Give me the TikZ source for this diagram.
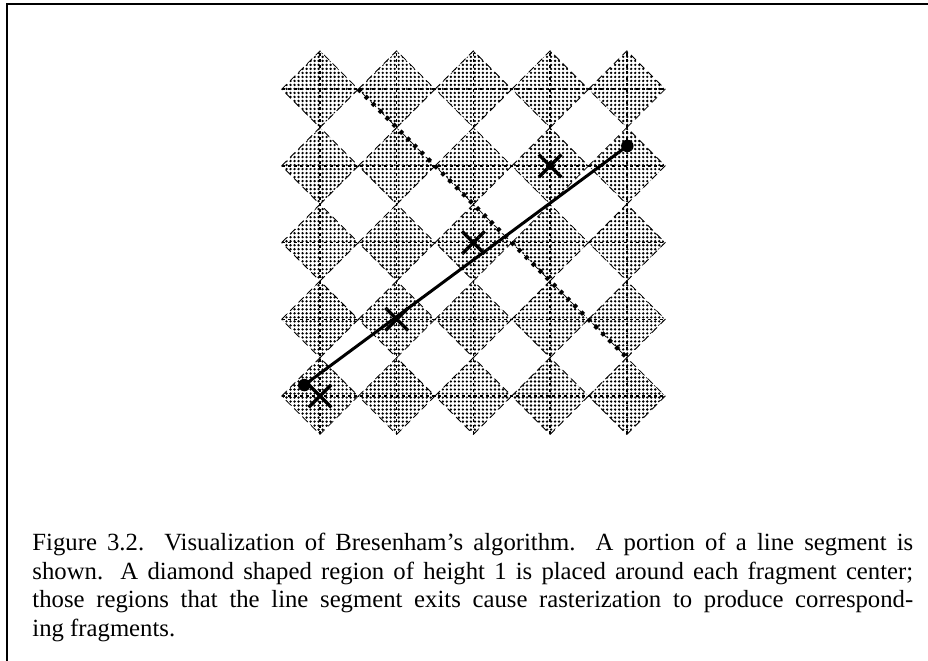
\documentclass[tikz,border=0pt]{standalone}
\usepackage{fontspec}
\setmainfont{Liberation Serif}
\usepackage{tikz}
\usetikzlibrary{patterns, shapes.misc}

% fine stipple for the diamond regions
\pgfdeclarepatternformonly{stipple}{\pgfpoint{-0.1pt}{-0.1pt}}{\pgfpoint{1.77pt}{1.77pt}}{\pgfpoint{1.67pt}{1.67pt}}{%
  \pgfpathcircle{\pgfpoint{0.83pt}{0.83pt}}{0.55pt}\pgfusepath{fill}}

\tikzset{
  region/.style={pattern=stipple, draw, densely dashed, line width=0.35pt},
  centerline/.style={line width=0.6pt, dash pattern=on 1.5pt off 1pt},
  exitline/.style={line width=1.8pt, dash pattern=on 1.5pt off 2.6pt},
  segment/.style={line width=1.25pt},
  endpt/.style={circle, fill, inner sep=0pt, minimum size=5.2pt},
  frag/.style={cross out, draw, line width=1.4pt, inner sep=0pt, minimum size=8pt},
}

\begin{document}
\begin{tikzpicture}[x=1.1233cm, y=1.1233cm]
  \useasboundingbox (-4.172,-3.442) rectangle (7.927,5.163);

  % frame
  \draw[line width=0.83pt] (-4.081,-3.6) -- (-4.081,5.111) -- (8.1,5.111);

  % diamond regions
  \foreach \i in {0,...,4}
    \foreach \j in {0,...,4}
      \path[region] (\i,\j) +(-0.5,0) -- +(0,0.5) -- +(0.5,0) -- +(0,-0.5) -- cycle;

  % lines through fragment centers
  \foreach \k in {0,...,4} {
    \draw[centerline] (\k,-0.5) -- (\k,4.5);
    \draw[centerline] (-0.5,\k) -- (4.5,\k);
  }

  % diagonal
  \coordinate (d0) at (0.5,4);
  \coordinate (d1) at (4,0.5);
  \draw[exitline] (d0) -- (d1);

  % line segment
  \node[endpt] (p0) at (-0.205,0.143) {};
  \node[endpt] (p1) at (4.007,3.26) {};
  \draw[segment] (p0.center) -- (p1.center);

  % produced fragments
  \node[frag] (f0) at (0,0) {};
  \node[frag] (f1) at (1,1) {};
  \node[frag] (f2) at (2,2) {};
  \node[frag] (f3) at (3,3) {};

  % caption
  \node[anchor=north west, text width=367pt, align=justify, inner sep=0pt,
        font=\fontsize{10.3}{12}\selectfont] (caption) at (-3.755,-1.778) {%
    Figure 3.2. Visualization of Bresenham's algorithm. A portion of a line segment is\linebreak
    shown. A diamond shaped region of height 1 is placed around each fragment center;\linebreak
    those regions that the line segment exits cause rasterization to produce correspond-\linebreak
    ing fragments.};
\end{tikzpicture}
\end{document}
